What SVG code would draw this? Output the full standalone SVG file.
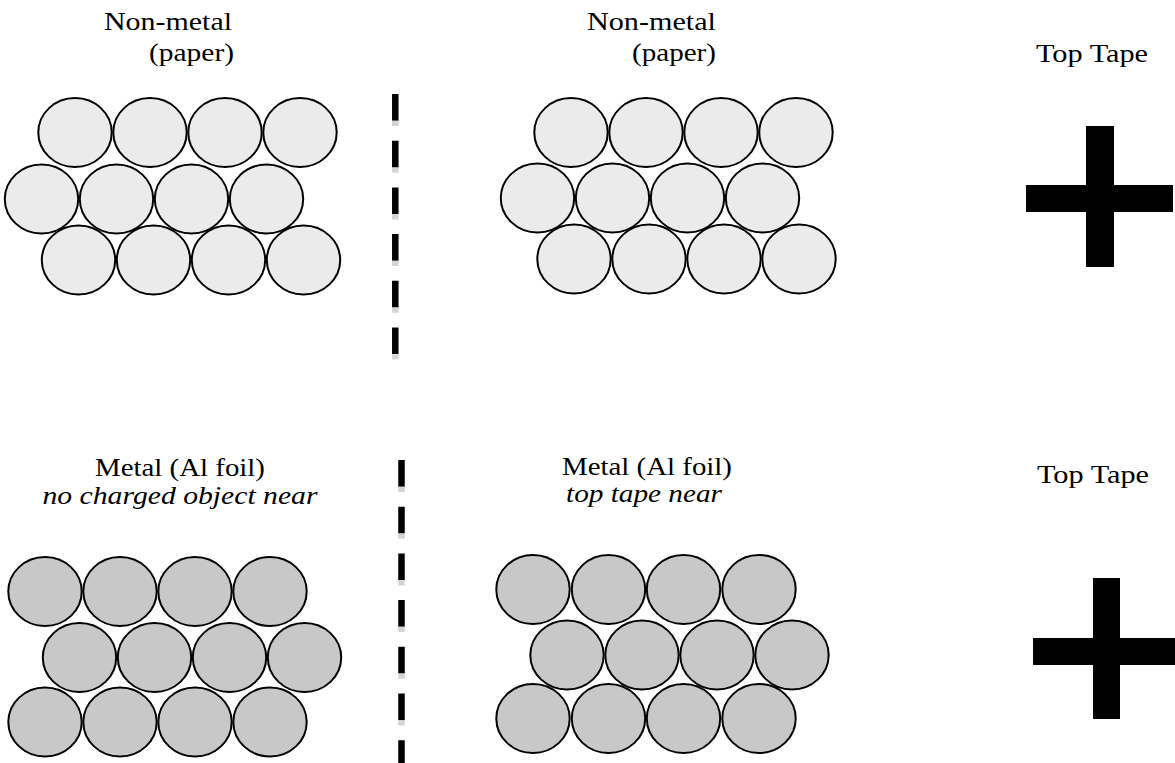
<svg xmlns="http://www.w3.org/2000/svg" width="1175" height="763" viewBox="0 0 1175 763">
<style>
  text { font-family: "Liberation Serif", "DejaVu Serif", serif; font-size: 26px; fill: #000; }
  .it { font-style: italic; }
  .mid { text-anchor: middle; }
  .paper ellipse { fill: #ebebeb; stroke: #000; stroke-width: 2; }
  .metal ellipse { fill: #c8c8c8; stroke: #000; stroke-width: 2; }
  .plus { fill: #000; }
  .dash { stroke: #000; stroke-width: 6.5; stroke-dasharray: 26.7 20; }
  .dashShade { stroke: #d4d4d4; stroke-width: 6.5; stroke-dasharray: 5.3 41.4; }
</style>
<rect width="1175" height="763" fill="#fff"/>

<g id="label-nonmetal-left">
  <text x="104" y="30" textLength="128" lengthAdjust="spacingAndGlyphs">Non-metal</text>
  <text x="149" y="61" textLength="85" lengthAdjust="spacingAndGlyphs">(paper)</text>
</g>
<g id="label-nonmetal-right">
  <text x="587" y="30" textLength="129" lengthAdjust="spacingAndGlyphs">Non-metal</text>
  <text x="632" y="61" textLength="84" lengthAdjust="spacingAndGlyphs">(paper)</text>
</g>
<g id="label-toptape-top">
  <text x="1036" y="62" textLength="112" lengthAdjust="spacingAndGlyphs">Top Tape</text>
</g>
<g id="label-metal-left">
  <text class="mid" x="180" y="476" textLength="170" lengthAdjust="spacingAndGlyphs">Metal (Al foil)</text>
  <text class="mid it" x="180" y="504" textLength="275" lengthAdjust="spacingAndGlyphs">no charged object near</text>
</g>
<g id="label-metal-right">
  <text class="mid" x="647" y="475" textLength="170" lengthAdjust="spacingAndGlyphs">Metal (Al foil)</text>
  <text class="mid it" x="644" y="502" textLength="156" lengthAdjust="spacingAndGlyphs">top tape near</text>
</g>
<g id="label-toptape-bottom">
  <text x="1037" y="483" textLength="112" lengthAdjust="spacingAndGlyphs">Top Tape</text>
</g>

<g id="paper-left" class="paper">
  <ellipse cx="75" cy="132.5" rx="36.7" ry="34.5"/>
  <ellipse cx="150" cy="132.5" rx="36.7" ry="34.5"/>
  <ellipse cx="225" cy="132.5" rx="36.7" ry="34.5"/>
  <ellipse cx="300" cy="132.5" rx="36.7" ry="34.5"/>
  <ellipse cx="41.5" cy="199" rx="36.7" ry="34.5"/>
  <ellipse cx="116.5" cy="199" rx="36.7" ry="34.5"/>
  <ellipse cx="191.5" cy="199" rx="36.7" ry="34.5"/>
  <ellipse cx="266.5" cy="199" rx="36.7" ry="34.5"/>
  <ellipse cx="78.5" cy="260" rx="36.7" ry="34.5"/>
  <ellipse cx="153.5" cy="260" rx="36.7" ry="34.5"/>
  <ellipse cx="228.5" cy="260" rx="36.7" ry="34.5"/>
  <ellipse cx="303.5" cy="260" rx="36.7" ry="34.5"/>
</g>

<g id="paper-right" class="paper">
  <ellipse cx="571" cy="132.5" rx="36.7" ry="34.5"/>
  <ellipse cx="646" cy="132.5" rx="36.7" ry="34.5"/>
  <ellipse cx="721" cy="132.5" rx="36.7" ry="34.5"/>
  <ellipse cx="796" cy="132.5" rx="36.7" ry="34.5"/>
  <ellipse cx="537.5" cy="198" rx="36.7" ry="34.5"/>
  <ellipse cx="612.5" cy="198" rx="36.7" ry="34.5"/>
  <ellipse cx="687.5" cy="198" rx="36.7" ry="34.5"/>
  <ellipse cx="762.5" cy="198" rx="36.7" ry="34.5"/>
  <ellipse cx="574" cy="259" rx="36.7" ry="34.5"/>
  <ellipse cx="649" cy="259" rx="36.7" ry="34.5"/>
  <ellipse cx="724" cy="259" rx="36.7" ry="34.5"/>
  <ellipse cx="799" cy="259" rx="36.7" ry="34.5"/>
</g>

<g id="metal-left" class="metal">
  <ellipse cx="45" cy="591.5" rx="36.7" ry="34.5"/>
  <ellipse cx="120" cy="591.5" rx="36.7" ry="34.5"/>
  <ellipse cx="195" cy="591.5" rx="36.7" ry="34.5"/>
  <ellipse cx="270" cy="591.5" rx="36.7" ry="34.5"/>
  <ellipse cx="79.5" cy="657.5" rx="36.7" ry="34.5"/>
  <ellipse cx="154.5" cy="657.5" rx="36.7" ry="34.5"/>
  <ellipse cx="229.5" cy="657.5" rx="36.7" ry="34.5"/>
  <ellipse cx="304.5" cy="657.5" rx="36.7" ry="34.5"/>
  <ellipse cx="45" cy="722" rx="36.7" ry="34.5"/>
  <ellipse cx="120" cy="722" rx="36.7" ry="34.5"/>
  <ellipse cx="195" cy="722" rx="36.7" ry="34.5"/>
  <ellipse cx="270" cy="722" rx="36.7" ry="34.5"/>
</g>

<g id="metal-right" class="metal">
  <ellipse cx="533" cy="589.5" rx="36.7" ry="34.5"/>
  <ellipse cx="608.5" cy="589.5" rx="36.7" ry="34.5"/>
  <ellipse cx="683.5" cy="589.5" rx="36.7" ry="34.5"/>
  <ellipse cx="759" cy="589.5" rx="36.7" ry="34.5"/>
  <ellipse cx="567" cy="655" rx="36.7" ry="34.5"/>
  <ellipse cx="642" cy="655" rx="36.7" ry="34.5"/>
  <ellipse cx="717" cy="655" rx="36.7" ry="34.5"/>
  <ellipse cx="792" cy="655" rx="36.7" ry="34.5"/>
  <ellipse cx="533" cy="718.5" rx="36.7" ry="34.5"/>
  <ellipse cx="608.5" cy="718.5" rx="36.7" ry="34.5"/>
  <ellipse cx="683.5" cy="718.5" rx="36.7" ry="34.5"/>
  <ellipse cx="759" cy="718.5" rx="36.7" ry="34.5"/>
</g>

<g id="plus-top" class="plus">
  <rect x="1086" y="126" width="28" height="141"/>
  <rect x="1026" y="185" width="147" height="27"/>
</g>
<g id="plus-bottom" class="plus">
  <rect x="1093" y="578" width="27" height="141"/>
  <rect x="1033" y="638" width="142" height="27"/>
</g>

<g id="dividers">
  <line class="dash" x1="395.3" y1="94" x2="395.3" y2="354"/>
  <line class="dashShade" x1="395.3" y1="120.7" x2="395.3" y2="360"/>
  <line class="dash" x1="401.5" y1="460" x2="401.5" y2="763"/>
  <line class="dashShade" x1="401.5" y1="486.7" x2="401.5" y2="763"/>
</g>
</svg>
